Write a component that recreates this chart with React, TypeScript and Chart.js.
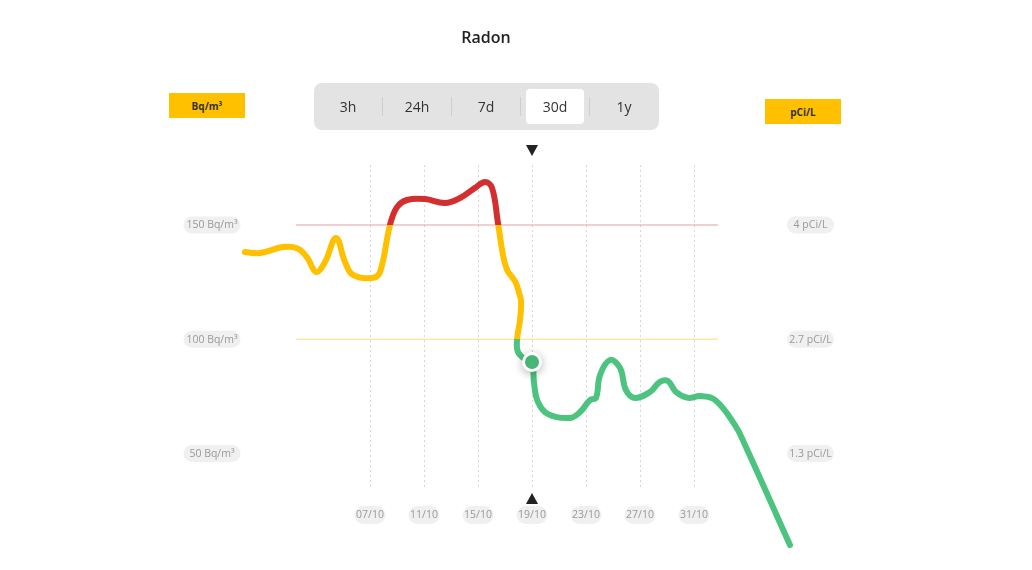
import React, { useEffect, useRef } from "react";
import { Chart, registerables } from "chart.js";

Chart.register(...registerables);

// ---- data ----
const dayOffsets = [
  -9.26, -8.15, -6.44, -5.41, -4.67, -4.0, -3.33, -2.52, -1.85, -1.26, 0.15, 0.74,
  1.48, 2.0, 2.74, 4.07, 5.56, 6.67, 7.78, 8.52, 9.04, 9.48, 9.85, 10.15, 10.52,
  10.81, 11.04, 11.19, 11.11, 10.89, 10.96, 11.56, 12.0, 12.15, 12.44, 13.19, 14.81,
  15.56, 16.3, 16.74, 17.04, 17.78, 18.52, 18.96, 19.63, 20.74, 21.48, 22.07, 22.67,
  23.56, 24.44, 25.56, 27.04, 27.78, 31.11,
];
const radonValues = [
  138.1, 137.7, 140.3, 139.8, 135.9, 129.4, 133.8, 144.3, 133.8, 128.1, 126.8, 129.4,
  150.0, 157.8, 160.9, 161.3, 159.6, 161.8, 166.2, 168.8, 166.2, 150.8, 136.8, 130.3, 127.2,
  124.6, 120.2, 116.8, 108.4, 99.6, 94.4, 90.9, 90.0, 80.8, 72.5, 67.2, 65.5,
  68.1, 73.4, 74.3, 84.3, 90.9, 87.4, 77.7, 74.3, 76.9, 81.3, 81.7, 76.9,
  74.3, 75.1, 73.4, 62.4, 53.7, 9.9,
];
const xTickDays = [0, 4, 8, 12, 16, 20, 24];
const xTickLabels = ["07/10", "11/10", "15/10", "19/10", "23/10", "27/10", "31/10"];
const yTickValues = [150, 100, 50];
const leftTickLabels = ["150 Bq/m³", "100 Bq/m³", "50 Bq/m³"];
const rightTickLabels = ["4 pCi/L", "2.7 pCi/L", "1.3 pCi/L"];
const thresholdHigh = 150;
const thresholdLow = 100;
const thresholdRange = [-5.48, 25.78];
const selectedDay = 12;
const selectedValue = 90.0;
const rangeButtons = ["3h", "24h", "7d", "30d", "1y"];
const activeRange = "30d";

// ---- styles ----
const RED = "#d32f2f";
const YELLOW = "#ffc000";
const GREEN = "#4cc47f";
const FONT = "'Open Sans', 'Noto Sans', sans-serif";

function lineGradient(ctx: any) {
  const chart = ctx.chart;
  const { chartArea, scales } = chart;
  if (!chartArea || !scales.y) return GREEN;
  const top = chartArea.top;
  const bottom = chartArea.bottom;
  const clamp = (v: number) => Math.max(0, Math.min(1, v));
  const p1 = clamp((scales.y.getPixelForValue(thresholdHigh) - top) / (bottom - top));
  const p2 = clamp((scales.y.getPixelForValue(thresholdLow) - top) / (bottom - top));
  const g = chart.ctx.createLinearGradient(0, top, 0, bottom);
  g.addColorStop(0, RED);
  g.addColorStop(p1, RED);
  g.addColorStop(p1, YELLOW);
  g.addColorStop(p2, YELLOW);
  g.addColorStop(p2, GREEN);
  g.addColorStop(1, GREEN);
  return g;
}

function pill(ctx: CanvasRenderingContext2D, cx: number, cy: number, w: number, h: number, text: string) {
  const r = h / 2;
  ctx.save();
  ctx.fillStyle = "#f0f0f0";
  ctx.beginPath();
  ctx.moveTo(cx - w / 2 + r, cy - h / 2);
  ctx.lineTo(cx + w / 2 - r, cy - h / 2);
  ctx.arc(cx + w / 2 - r, cy, r, -Math.PI / 2, Math.PI / 2);
  ctx.lineTo(cx - w / 2 + r, cy + h / 2);
  ctx.arc(cx - w / 2 + r, cy, r, Math.PI / 2, (3 * Math.PI) / 2);
  ctx.closePath();
  ctx.fill();
  ctx.fillStyle = "#999999";
  ctx.font = `10.5px ${FONT}`;
  ctx.textAlign = "center";
  ctx.textBaseline = "middle";
  ctx.fillText(text, cx, cy + 0.5);
  ctx.restore();
}

const MARKER_INDEX = 3;

const decorPlugin = {
  id: "decor",
  beforeDatasetsDraw(chart: any) {
    const ctx = chart.ctx as CanvasRenderingContext2D;
    const xs = chart.scales.x;
    ctx.save();
    ctx.strokeStyle = "#d6d6d6";
    ctx.lineWidth = 1;
    ctx.setLineDash([2, 3]);
    xTickDays.forEach((d) => {
      const x = Math.round(xs.getPixelForValue(d)) + 0.5;
      ctx.beginPath();
      ctx.moveTo(x, 165);
      ctx.lineTo(x, 488);
      ctx.stroke();
    });
    ctx.restore();
  },
  beforeDatasetDraw(chart: any, args: any) {
    if (args.index === MARKER_INDEX) {
      const ctx = chart.ctx;
      ctx.save();
      ctx.shadowColor = "rgba(0,0,0,0.25)";
      ctx.shadowBlur = 10;
      ctx.shadowOffsetY = 2;
    }
  },
  afterDatasetDraw(chart: any, args: any) {
    if (args.index === MARKER_INDEX) chart.ctx.restore();
  },
  afterDatasetsDraw(chart: any) {
    const ctx = chart.ctx as CanvasRenderingContext2D;
    const xs = chart.scales.x;
    const ys = chart.scales.y;
    xTickDays.forEach((d, i) => {
      pill(ctx, xs.getPixelForValue(d), 515, 31, 18, xTickLabels[i]);
    });
    yTickValues.forEach((v, i) => {
      const y = ys.getPixelForValue(v);
      pill(ctx, 212, y, 57, 17, leftTickLabels[i]);
      pill(ctx, 810.5, y, 47, 17, rightTickLabels[i]);
    });
    const sx = xs.getPixelForValue(selectedDay);
    ctx.save();
    ctx.fillStyle = "#222";
    ctx.beginPath();
    ctx.moveTo(sx - 6, 145);
    ctx.lineTo(sx + 6, 145);
    ctx.lineTo(sx, 156);
    ctx.closePath();
    ctx.fill();
    ctx.beginPath();
    ctx.moveTo(sx - 6, 504);
    ctx.lineTo(sx + 6, 504);
    ctx.lineTo(sx, 493);
    ctx.closePath();
    ctx.fill();
    ctx.restore();
  },
};

function RadonChart() {
  const ref = useRef<HTMLCanvasElement | null>(null);
  useEffect(() => {
    if (!ref.current) return;
    Chart.defaults.font.family = FONT;
    const lineData = dayOffsets.map((d, i) => ({ x: d, y: radonValues[i] }));
    const chart = new Chart(ref.current, {
      type: "line",
      data: {
        datasets: [
          {
            data: thresholdRange.map((d) => ({ x: d, y: thresholdHigh })),
            borderColor: "rgba(225,110,110,0.45)",
            borderWidth: 1.5,
            pointRadius: 0,
            order: 3,
          },
          {
            data: thresholdRange.map((d) => ({ x: d, y: thresholdLow })),
            borderColor: "rgba(255,205,70,0.5)",
            borderWidth: 1.5,
            pointRadius: 0,
            order: 3,
          },
          {
            data: lineData,
            borderColor: lineGradient,
            borderWidth: 6,
            borderCapStyle: "round",
            borderJoinStyle: "round",
            tension: 0.4,
            pointRadius: 0,
            order: 2,
          },
          {
            data: [{ x: selectedDay, y: selectedValue }],
            showLine: false,
            pointRadius: 8.5,
            pointBorderWidth: 3,
            pointBackgroundColor: GREEN,
            pointBorderColor: "#ffffff",
            clip: false,
            order: 1,
          } as any,
        ],
      },
      options: {
        responsive: false,
        devicePixelRatio: 1,
        animation: false,
        layout: { padding: { left: 208, right: 176, top: 110, bottom: 20 } },
        plugins: { legend: { display: false }, tooltip: { enabled: false } },
        events: [],
        scales: {
          x: { type: "linear", min: -12, max: 36, display: false },
          y: { type: "linear", min: 7.73, max: 200.29, display: false },
        },
      },
      plugins: [decorPlugin],
    });
    return () => chart.destroy();
  }, []);
  return (
    <canvas
      ref={ref}
      width={1032}
      height={570}
      style={{ position: "absolute", left: 0, top: 0, width: 1032, height: 570 }}
    />
  );
}

export default function App() {
  const cell = 69;
  return (
    <div
      style={{
        position: "absolute",
        left: 0,
        top: 0,
        width: 1032,
        height: 570,
        background: "#fff",
        fontFamily: FONT,
        overflow: "hidden",
      }}
    >
      <RadonChart />
      <div
        style={{
          position: "absolute",
          left: 0,
          width: 972,
          top: 26,
          textAlign: "center",
          fontSize: 16,
          fontWeight: 600,
          color: "#222",
          lineHeight: "22px",
        }}
      >
        Radon
      </div>
      <div
        style={{
          position: "absolute",
          left: 169,
          top: 93,
          width: 76,
          height: 25,
          background: YELLOW,
          color: "#333",
          fontSize: 10,
          fontWeight: 700,
          display: "flex",
          alignItems: "center",
          justifyContent: "center",
        }}
      >
        Bq/m³
      </div>
      <div
        style={{
          position: "absolute",
          left: 765,
          top: 99,
          width: 76,
          height: 25,
          background: YELLOW,
          color: "#333",
          fontSize: 10,
          fontWeight: 700,
          display: "flex",
          alignItems: "center",
          justifyContent: "center",
        }}
      >
        pCi/L
      </div>
      <div
        style={{
          position: "absolute",
          left: 313.5,
          top: 83,
          width: cell * rangeButtons.length,
          height: 47,
          background: "#e3e3e3",
          borderRadius: 8,
        }}
      >
        {rangeButtons.map((b, i) => (
          <React.Fragment key={b}>
            {b === activeRange && (
              <div
                style={{
                  position: "absolute",
                  left: i * cell + 5.5,
                  top: 6,
                  width: cell - 11,
                  height: 35,
                  background: "#fff",
                  borderRadius: 4,
                }}
              />
            )}
            {i > 0 && (
              <div
                style={{
                  position: "absolute",
                  left: i * cell - 0.5,
                  top: 14,
                  width: 1,
                  height: 19,
                  background: "#cfcfcf",
                }}
              />
            )}
            <div
              style={{
                position: "absolute",
                left: i * cell,
                top: 0,
                width: cell,
                height: 47,
                display: "flex",
                alignItems: "center",
                justifyContent: "center",
                fontSize: 14,
                color: "#333",
              }}
            >
              {b}
            </div>
          </React.Fragment>
        ))}
      </div>
    </div>
  );
}
